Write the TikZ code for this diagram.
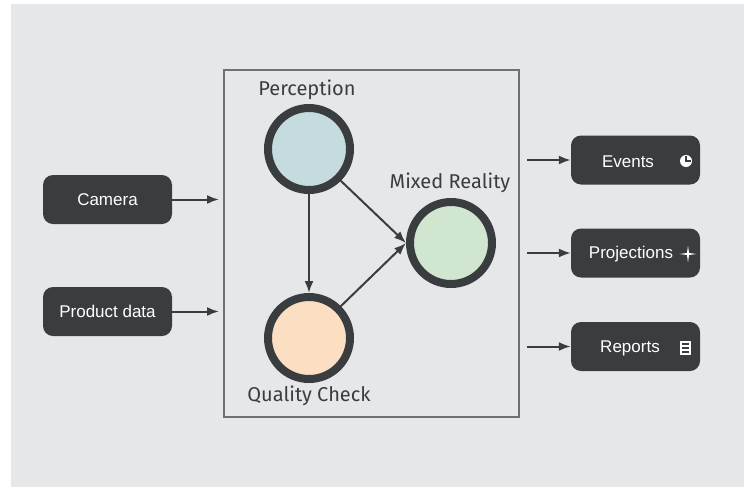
\documentclass[tikz,border=0pt]{standalone}
\usepackage{fontspec}
\setmainfont{Liberation Sans}
\newfontfamily\stagefont{Fira Sans}
\usetikzlibrary{arrows.meta,positioning}

\definecolor{bg}{HTML}{E6E7E9}
\definecolor{darkgray}{HTML}{3A3D40}
\definecolor{framegray}{HTML}{707070}
\definecolor{percfill}{HTML}{C6DBDE}
\definecolor{mixfill}{HTML}{D1E6D1}
\definecolor{qualfill}{HTML}{FCDEC3}

\begin{document}
\begin{tikzpicture}[x=1pt,y=-1pt,
	databox/.style={fill=darkgray,rounded corners=10pt,minimum width=129pt,minimum height=49pt,inner sep=0pt,text=white,font=\fontsize{17}{20}\selectfont},
	boxtext/.style={text=white,inner sep=0pt,font=\fontsize{17}{20}\selectfont},
	stage/.style={circle,draw=darkgray,line width=8pt,minimum size=82pt,inner sep=0pt},
	stagelabel/.style={text=darkgray,inner sep=0pt,font=\stagefont\fontsize{20}{24}\selectfont},
	flow/.style={-{Latex[length=12pt,width=9pt]},line width=2pt,draw=darkgray}]
		\useasboundingbox (0,0) rectangle (744,488);
		\fill[bg] (11,4) rectangle (744,487);
		\draw[framegray,line width=1.5pt] (224,70) rectangle (519,417);

		\node[stage,fill=percfill] (perc) at (309,149) {};
		\node[stage,fill=mixfill] (mixed) at (451,243) {};
		\node[stage,fill=qualfill] (qual) at (309,338) {};
		\node[stagelabel] (percL) at (307,90) {Perception};
		\node[stagelabel] (mixedL) at (450,183) {Mixed Reality};
		\node[stagelabel] (qualL) at (309,396) {Quality Check};

		\draw[flow] (perc) -- (qual);
		\draw[flow] (perc.-45) -- (mixed.west);
		\draw[flow] (qual.45) -- (mixed.west);

		\node[databox] (camera) at (107.5,199.5) {Camera};
		\node[databox] (product) at (107.5,311.5) {Product data};
		\coordinate (cameraIn) at (219,199.5);
		\coordinate (productIn) at (219,311.5);
		\draw[flow] (camera.east) -- (cameraIn);
		\draw[flow] (product.east) -- (productIn);

		\foreach \name/\y/\dx/\txt in {events/160/-7.5/Events,proj/253/-4.5/Projections,reports/346.5/-5.5/Reports}{
			\node[databox] (\name) at (635.5,\y) {};
			\node[boxtext] (\name-t) at ([xshift=\dx pt,yshift=-1.5pt]\name.center) {\txt};
			\coordinate (\name-s) at (527,\y);
			\draw[flow] (\name-s) -- (\name.west);
		}

		% icons
		\fill[white] (686,161) circle (6);
		\draw[darkgray,line width=1.2pt] (686,156) -- (686,161) -- (690.5,161);
		\fill[white] (688,245.5) -- (689,253) -- (696.5,254) -- (689,255) -- (688,262.5) -- (687,255) -- (679.5,254) -- (687,253) -- cycle;
		\draw[white,line width=1.6pt] (681,342) rectangle (690,354);
		\draw[white,line width=1.6pt] (681,346) -- (690,346) (681,350) -- (690,350);
	\end{tikzpicture}
\end{document}
